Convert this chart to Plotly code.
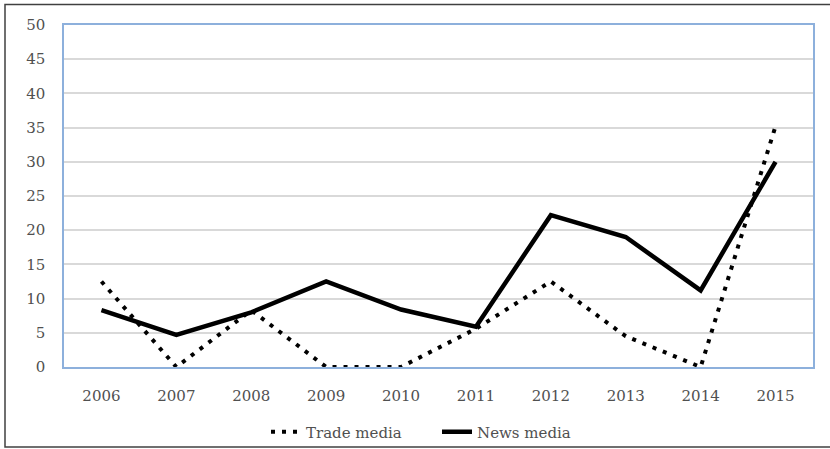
import plotly.graph_objects as go

years = ["2006", "2007", "2008", "2009", "2010", "2011", "2012", "2013", "2014", "2015"]
trade_media = [12.5, 0, 8.3, 0, 0, 5.6, 12.5, 4.5, 0, 35.2]
news_media = [8.3, 4.7, 8.0, 12.5, 8.4, 5.9, 22.2, 19.0, 11.2, 30.0]

W, H = 830, 449
ml, mr, mt, mb = 64, 17, 25, 82
pw, ph = W - ml - mr, H - mt - mb

fig = go.Figure()
fig.add_trace(go.Scatter(x=years, y=trade_media, mode="lines", name="Trade media",
                         line=dict(color="black", width=4, dash="4px,7px")))
fig.add_trace(go.Scatter(x=years, y=news_media, mode="lines", name="News media",
                         line=dict(color="black", width=4.5)))

font = dict(family="DejaVu Serif", size=15, color="#505050")

fig.update_layout(
    width=W, height=H,
    margin=dict(l=ml, r=mr, t=mt, b=mb, pad=0, autoexpand=False),
    paper_bgcolor="white", plot_bgcolor="white",
    font=font,
    showlegend=True,
    legend=dict(orientation="h", x=0.498, xanchor="center", y=-0.19, yanchor="middle",
                bgcolor="rgba(0,0,0,0)",
                font=dict(family="DejaVu Serif", size=15, color="#505050"),
                itemwidth=30, entrywidth=126, entrywidthmode="pixels",
                traceorder="normal"),
    xaxis=dict(type="category", range=[-0.5, 9.5], showgrid=False,
               showline=True, linecolor="#8DB0DC", linewidth=1.5, mirror=True,
               ticks="", ticklabelstandoff=14, zeroline=False),
    yaxis=dict(range=[0, 50], dtick=5, showgrid=True, gridcolor="#D9D9D9", gridwidth=1.5,
               showline=True, linecolor="#8DB0DC", linewidth=1.5, mirror=True,
               ticks="", ticklabelstandoff=14, zeroline=False),
)

fig.add_shape(type="rect", xref="paper", yref="paper",
              x0=(5 - ml) / pw, x1=(840 - ml) / pw,
              y0=-(447 - (H - mb)) / ph, y1=1 + (mt - 4.5) / ph,
              line=dict(color="#404040", width=1.5), layer="below")

fig.write_html("out.html")
